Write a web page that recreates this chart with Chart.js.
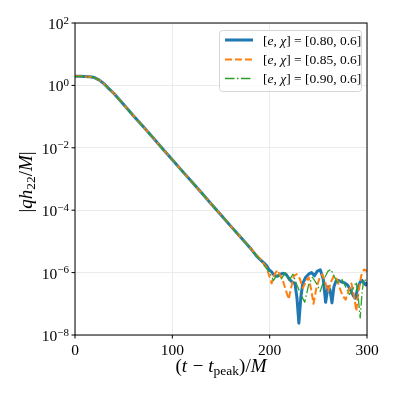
<!DOCTYPE html>
<html><head><meta charset="utf-8">
<script src="https://cdn.jsdelivr.net/npm/chart.js@4/dist/chart.umd.min.js"></script>
<style>html,body{margin:0;padding:0;background:#fff;}canvas{display:block;}</style>
</head><body>
<canvas id="c" width="397" height="397"></canvas>
<script>
// ---- data ----
const xTickValues = [0, 100, 200, 300];
const yTickExponents = [-8, -6, -4, -2, 0, 2];

// shared early part (the three curves coincide here)
const tSmooth = [0,5,10,15,20,25,30,35,40,50,60,70,80,90,100,110,120,130,140,150,160,170,180];
const ampSmooth = [1.95,1.95,1.93,1.88,1.78,1.48,1.12,0.776,0.55,0.245,0.107,0.0479,0.0214,0.00933,0.00417,0.00182,8.13e-4,3.63e-4,1.58e-4,7.08e-5,3.09e-5,1.38e-5,6.17e-6];

// late-time noisy tails
const tBlue = [186,190,194,197,199,202,205,208,211,214,217,220,223,226,228,230,232,234,237,240,243,246,249,252,255,257.5,260,262,264,266,268,271,274,277,280,283,286,288,290.5,293,295,297,299,300];
const ampBlue = [3.55e-6,2.63e-6,2.04e-6,1.66e-6,1.26e-6,1.05e-6,7.9e-7,7.6e-7,8.9e-7,9.5e-7,8.7e-7,6.3e-7,5.0e-7,4.5e-7,1.6e-7,2.4e-8,1.6e-7,4.5e-7,7.1e-7,8.9e-7,1.0e-6,7.9e-7,1.12e-6,1.23e-6,6.3e-7,1.12e-7,3.5e-7,2.8e-7,1.07e-7,3.5e-7,5.2e-7,5.6e-7,5.0e-7,4.7e-7,4.0e-7,2.8e-7,1.8e-7,1.5e-7,3.2e-7,5.0e-7,5.6e-7,4.5e-7,4.0e-7,5.0e-7];

const tOrange = [186,190,194,197,200,202,205,208,211,214,217,219.5,222,225,228,231,234,237,240,243,245,248,251,254,257,260,263,266,269,272,275,278,281,284,287,289,291,294,297,300];
const ampOrange = [3.8e-6,2.8e-6,1.9e-6,1.41e-6,7.1e-7,4.5e-7,8.9e-7,1.2e-6,7.9e-7,5.0e-7,2.5e-7,1.41e-7,3.2e-7,7.9e-7,8.9e-7,6.3e-7,3.2e-7,5.0e-7,7.1e-7,2.5e-7,1.0e-7,3.2e-7,6.3e-7,8.9e-7,5.0e-7,2.5e-7,5.0e-7,7.9e-7,6.3e-7,3.2e-7,1.8e-7,1.35e-7,2.5e-7,4.5e-7,1.6e-7,5.8e-8,2.0e-7,7.9e-7,1.26e-6,1.12e-6];

const tGreen = [186,190,195,200,204,208,212,216,220,224,228,232,236,240,244,248,252,256,260,263,266,270,274,278,282,286,289,291,293,295,297,300];
const ampGreen = [3.6e-6,2.7e-6,1.58e-6,1.0e-6,5.6e-7,8.9e-7,6.3e-7,1.0e-6,5.6e-7,8.9e-7,4.0e-7,2.0e-7,1.12e-7,4.0e-7,7.1e-7,4.5e-7,2.5e-7,6.3e-7,1.12e-6,1.26e-6,7.9e-7,4.5e-7,6.3e-7,3.5e-7,2.0e-7,3.2e-7,5.0e-7,1.6e-7,3.5e-8,2.5e-7,6.3e-7,5.0e-7];

const seriesLabels = ['0.80', '0.85', '0.90'];
const chiValue = '0.6';

function pts(tTail, aTail) {
  return tSmooth.map((t, i) => ({x: t, y: ampSmooth[i]}))
    .concat(tTail.map((t, i) => ({x: t, y: aTail[i]})));
}

const FONT = '"Liberation Serif", "DejaVu Serif", serif';
const BLUE = '#1f77b4', ORANGE = '#ff7f0e', GREEN = '#2ca02c';
const styles = [
  {color: BLUE, width: 3, dash: []},
  {color: ORANGE, width: 2, dash: [7, 3]},
  {color: GREEN, width: 1.3, dash: [9.5, 2.5, 1.5, 2.5]}
];

function drawRich(ctx, segs, x, y, align) {
  let total = 0;
  const ws = segs.map(s => {
    ctx.font = (s.style || '') + ' ' + s.size + 'px ' + FONT;
    const w = ctx.measureText(s.t).width + (s.gap || 0);
    total += w; return w;
  });
  let cx = align === 'center' ? x - total / 2 : (align === 'right' ? x - total : x);
  ctx.textAlign = 'left';
  ctx.textBaseline = 'alphabetic';
  segs.forEach((s, i) => {
    ctx.font = (s.style || '') + ' ' + s.size + 'px ' + FONT;
    ctx.fillText(s.t, cx, y + (s.dy || 0));
    cx += ws[i];
  });
}

const deco = {
  id: 'deco',
  afterDatasetsDraw(chart) {
    const {ctx, chartArea: a, scales: {x, y}} = chart;
    ctx.save();
    ctx.fillStyle = '#000';
    ctx.strokeStyle = '#000';
    ctx.lineWidth = 1;
    ctx.strokeRect(a.left, a.top, a.right - a.left, a.bottom - a.top);
    // x ticks
    xTickValues.forEach(v => {
      const px = x.getPixelForValue(v);
      ctx.beginPath(); ctx.moveTo(px, a.bottom); ctx.lineTo(px, a.bottom + 3.5); ctx.stroke();
      ctx.font = '15.5px ' + FONT; ctx.textAlign = 'center'; ctx.textBaseline = 'alphabetic';
      ctx.fillText(String(v), px, a.bottom + 20);
    });
    // y ticks
    yTickExponents.forEach(e => {
      const py = y.getPixelForValue(Math.pow(10, e));
      ctx.beginPath(); ctx.moveTo(a.left - 3.5, py); ctx.lineTo(a.left, py); ctx.stroke();
      const expStr = e < 0 ? '\u2212' + (-e) : String(e);
      drawRich(ctx, [
        {t: '10', size: 15.5, dy: 6},
        {t: expStr, size: 11, dy: 0.5}
      ], a.left - 6, py, 'right');
    });
    // x title
    drawRich(ctx, [
      {t: '(', size: 19},
      {t: 't', size: 19, style: 'italic', gap: 1},
      {t: ' \u2212 ', size: 19},
      {t: 't', size: 19, style: 'italic'},
      {t: 'peak', size: 13.5, dy: 3},
      {t: ')/', size: 19},
      {t: 'M', size: 19, style: 'italic'}
    ], (a.left + a.right) / 2, 372, 'center');
    // y title
    ctx.save();
    ctx.translate(32, (a.top + a.bottom) / 2 + 3);
    ctx.rotate(-Math.PI / 2);
    drawRich(ctx, [
      {t: '|', size: 19},
      {t: 'qh', size: 19, style: 'italic'},
      {t: '22', size: 13.5, dy: 3},
      {t: '/', size: 19},
      {t: 'M', size: 19, style: 'italic'},
      {t: '|', size: 19}
    ], 0, 0, 'center');
    ctx.restore();
    // legend
    const bx = 219, by = 30, bw = 142, bh = 61;
    ctx.beginPath();
    ctx.roundRect(bx + 0.5, by + 0.5, bw, bh, 3);
    ctx.fillStyle = 'rgba(255,255,255,0.8)';
    ctx.fill();
    ctx.strokeStyle = '#d6d6d6';
    ctx.lineWidth = 1;
    ctx.stroke();
    const rows = [40, 59.5, 78.5];
    seriesLabels.forEach((lab, i) => {
      const st = styles[i], ry = rows[i];
      ctx.beginPath();
      ctx.strokeStyle = st.color; ctx.lineWidth = st.width; ctx.setLineDash(st.dash);
      ctx.moveTo(225, ry); ctx.lineTo(253, ry); ctx.stroke();
      ctx.setLineDash([]);
      ctx.fillStyle = '#000';
      drawRich(ctx, [
        {t: '[', size: 13.5},
        {t: 'e', size: 13.5, style: 'italic'},
        {t: ', ', size: 13.5},
        {t: '\u03C7', size: 13.5, style: 'italic'},
        {t: '] = [' + lab + ', ' + chiValue + ']', size: 13.5}
      ], 263, ry + 4.5, 'left');
    });
    ctx.restore();
  }
};

new Chart(document.getElementById('c'), {
  type: 'line',
  data: {
    datasets: [
      {data: pts(tBlue, ampBlue), borderColor: BLUE, borderWidth: styles[0].width, order: 3},
      {data: pts(tOrange, ampOrange), borderColor: ORANGE, borderWidth: styles[1].width, borderDash: styles[1].dash, order: 2},
      {data: pts(tGreen, ampGreen), borderColor: GREEN, borderWidth: styles[2].width, borderDash: styles[2].dash, order: 1}
    ]
  },
  options: {
    responsive: false,
    animation: false,
    devicePixelRatio: 1,
    events: [],
    layout: {padding: {top: 23, right: 30, left: 0, bottom: 0}},
    elements: {point: {radius: 0}, line: {tension: 0, fill: false, borderJoinStyle: 'round', borderCapStyle: 'butt'}},
    plugins: {legend: {display: false}, tooltip: {enabled: false}},
    scales: {
      x: {
        type: 'linear', min: 0, max: 300,
        afterBuildTicks: s => { s.ticks = xTickValues.map(v => ({value: v})); },
        afterFit: s => { s.height = 62; },
        ticks: {display: false},
        grid: {color: '#ebebeb', lineWidth: 1, drawTicks: false},
        border: {display: false}
      },
      y: {
        type: 'logarithmic', min: 1e-8, max: 1e2,
        afterBuildTicks: s => { s.ticks = yTickExponents.map(e => ({value: Math.pow(10, e)})); },
        afterFit: s => { s.width = 75; },
        ticks: {display: false},
        grid: {color: '#ebebeb', lineWidth: 1, drawTicks: false},
        border: {display: false}
      }
    }
  },
  plugins: [deco]
});
</script>
</body></html>
